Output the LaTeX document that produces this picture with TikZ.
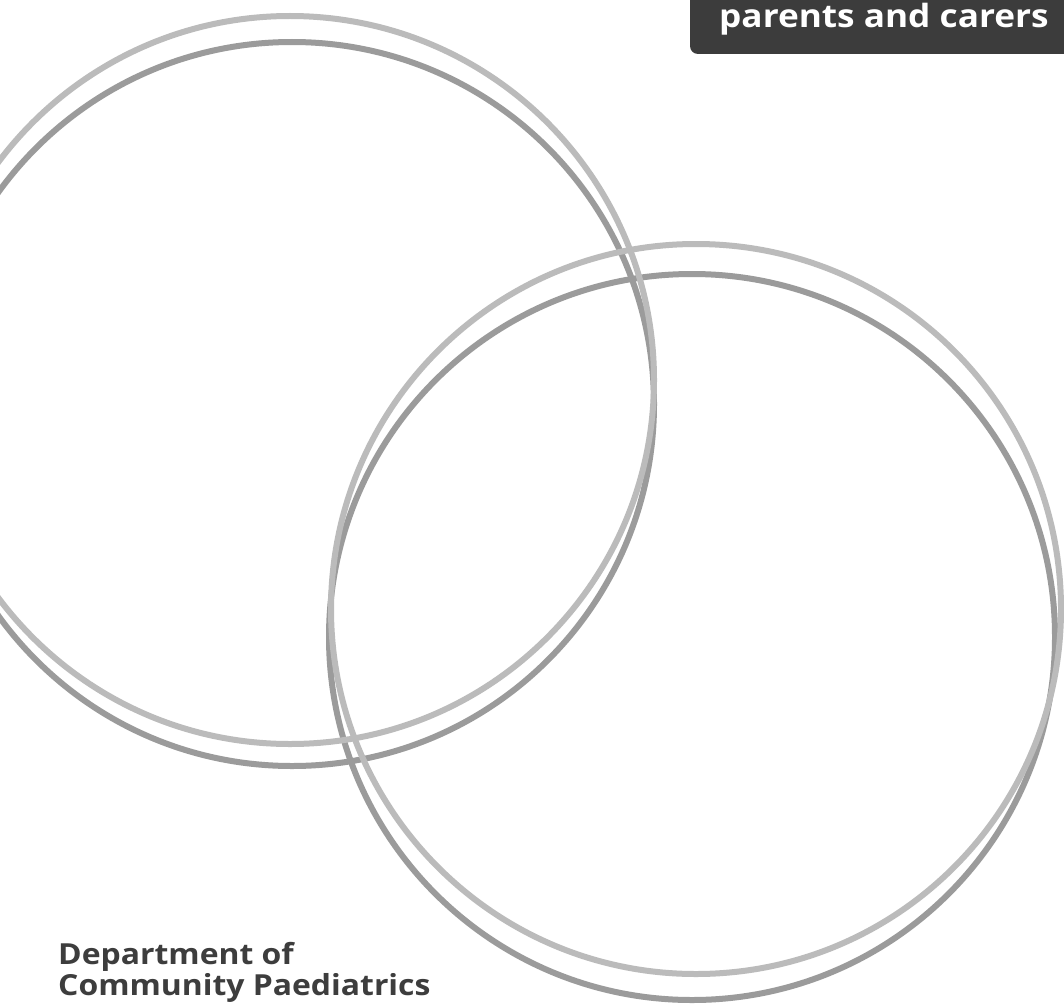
\documentclass[tikz,border=0pt]{standalone}
\usepackage{fontspec}
\setmainfont{Open Sans}
\newfontfamily\widesans[FakeStretch=1.1]{Open Sans Bold}
\definecolor{ringlight}{HTML}{BBBBBB}
\definecolor{ringdark}{HTML}{9B9B9B}
\definecolor{boxgray}{HTML}{3C3C3C}
\definecolor{txtgray}{HTML}{3D3D3D}
\begin{document}
\begin{tikzpicture}[x=1pt,y=-1pt,
  ringL/.style={draw=ringlight,line width=6pt},
  ringD/.style={draw=ringdark,line width=6pt},
  title/.style={font=\widesans\fontsize{32}{36}\selectfont,text=white,inner sep=0pt,anchor=base west},
  dept/.style={font=\widesans\fontsize{29}{31}\selectfont,text=txtgray,inner sep=0pt,anchor=base west}]
\useasboundingbox (0,0) rectangle (1064,1006);
\clip (0,0) rectangle (1064,1006);
\fill[white] (0,0) rectangle (1064,1006);
% dark rings first
\draw[ringD] (292,404) circle[radius=362];
\draw[ringD] (692,637) circle[radius=363];
% light rings on top
\draw[ringL] (290,380) circle[radius=364];
\draw[ringL] (696,609) circle[radius=365];
% title box
\fill[boxgray,rounded corners=8pt] (690,-20) -- (690,54) -- (1080,54) -- (1080,-20) -- cycle;
\node[title] (t) at (719,28) {parents and carers};
\node[dept] (d1) at (58,964) {Department of};
\node[dept] (d2) at (58,995) {Community Paediatrics};
\end{tikzpicture}
\end{document}
